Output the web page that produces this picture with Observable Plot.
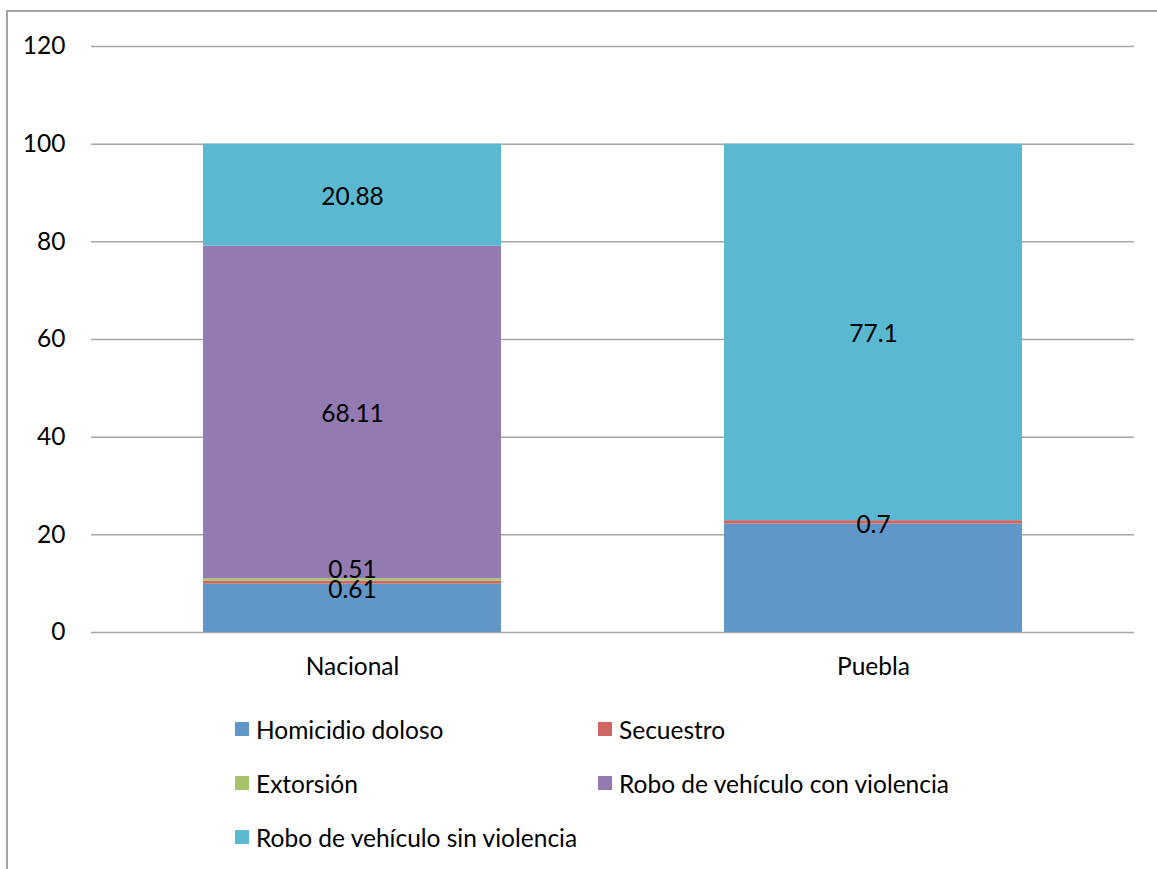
<!DOCTYPE html>
<html>
<head>
<meta charset="utf-8">
<script src="https://cdn.jsdelivr.net/npm/d3@7"></script>
<script src="https://cdn.jsdelivr.net/npm/@observablehq/plot@0.6"></script>
<style>
  html, body { margin: 0; padding: 0; background: #fff; }
  body { width: 1157px; height: 869px; position: relative; overflow: hidden; font-family: Lato, "Open Sans", sans-serif; }
  #frame { position: absolute; left: 6px; top: 10px; width: 1200px; height: 900px; border-left: 2px solid #a3a3a3; border-top: 2px solid #a3a3a3; }
  #chart { position: absolute; left: 0; top: 0; }
  #legend { position: absolute; left: 235px; top: 702px; display: grid; grid-template-columns: 363px 363px; grid-auto-rows: 54px; }
  .item { display: flex; align-items: center; font-size: 24.5px; color: #000; }
  .sw { width: 14px; height: 14px; margin-right: 7px; flex: none; }
</style>
</head>
<body>
<div id="frame"></div>
<div id="chart"></div>
<div id="legend"></div>
<script>
const categories = ["Nacional", "Puebla"];
const series = ["Homicidio doloso", "Secuestro", "Extorsión", "Robo de vehículo con violencia", "Robo de vehículo sin violencia"];
const colors = ["#6196C9", "#CD6661", "#A6C36A", "#937AB0", "#5BB8D1"];
const nacionalValues = [9.89, 0.61, 0.51, 68.11, 20.88];
const pueblaValues = [22.2, 0.7, 0, 0, 77.1];
const yTicks = [0, 20, 40, 60, 80, 100, 120];

const data = [];
categories.forEach((c, ci) => {
  const vals = ci === 0 ? nacionalValues : pueblaValues;
  series.forEach((s, si) => data.push({category: c, series: s, value: vals[si]}));
});

const FS = 24.5;
const shown = (d) => d.series !== "Homicidio doloso" && d.value > 0;
const stackOpts = (textFn) => Plot.stackY({x: "category", y: "value", z: "series", order: series, text: textFn});
const isNacSmall = (d) => d.category === "Nacional" && (d.series === "Secuestro" || d.series === "Extorsión");
const isPueSec = (d) => d.category === "Puebla" && d.series === "Secuestro";

const chart = Plot.plot({
  width: 1157,
  height: 700,
  marginLeft: 91,
  marginRight: 23,
  marginTop: 46,
  marginBottom: 68,
  style: {fontFamily: "Lato, 'Open Sans', sans-serif", fontSize: FS + "px", background: "transparent", color: "#000"},
  x: {domain: categories, paddingInner: 0.4286, paddingOuter: 0.2143, label: null},
  y: {domain: [0, 120], label: null},
  color: {domain: series, range: colors},
  marks: [
    Plot.ruleY(yTicks, {stroke: "#a6a6a6", strokeWidth: 1.5}),
    Plot.barY(data, Plot.stackY({x: "category", y: "value", fill: "series", order: series})),
    Plot.text(data, {...stackOpts(d => (shown(d) && !isNacSmall(d) && !isPueSec(d)) ? String(d.value) : ""), dy: 2, fill: "#000", fontSize: FS}),
    Plot.text(data, {...stackOpts(d => (d.category === "Nacional" && d.series === "Secuestro") ? String(d.value) : ""), dy: 7, fill: "#000", fontSize: FS}),
    Plot.text(data, {...stackOpts(d => (d.category === "Nacional" && d.series === "Extorsión") ? String(d.value) : ""), dy: -10, fill: "#000", fontSize: FS}),
    Plot.text(data, {...stackOpts(d => isPueSec(d) ? String(d.value) : ""), dy: 3, fill: "#000", fontSize: FS}),
    Plot.axisY({ticks: yTicks, tickSize: 0, tickPadding: 26, fontSize: FS, label: null}),
    Plot.axisX({tickSize: 0, tickPadding: 25, fontSize: FS, label: null})
  ]
});
document.getElementById("chart").appendChild(chart);

const legend = document.getElementById("legend");
series.forEach((s, i) => {
  const item = document.createElement("div");
  item.className = "item";
  const sw = document.createElement("span");
  sw.className = "sw";
  sw.style.background = colors[i];
  const t = document.createElement("span");
  t.textContent = s;
  item.appendChild(sw);
  item.appendChild(t);
  legend.appendChild(item);
});
</script>
</body>
</html>
